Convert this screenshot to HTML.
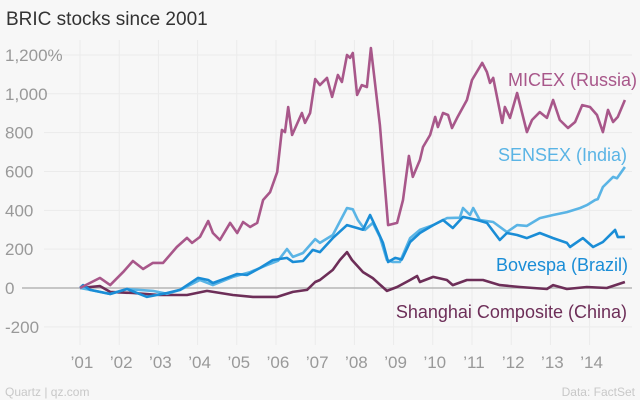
<!DOCTYPE html>
<html><head><meta charset="utf-8"><style>
body{margin:0;background:#f7f7f7;}
svg{display:block;font-family:"Liberation Sans",sans-serif;}
</style></head><body>
<svg width="640" height="400" viewBox="0 0 640 400">
<rect width="640" height="400" fill="#f7f7f7"/>
<text x="6" y="25" font-size="19" fill="#333">BRIC stocks since 2001</text>
<g id="grid"></g>
<g id="lines"></g>
<text x="637" y="86" font-size="18" fill="#a8578a" text-anchor="end">MICEX (Russia)</text>
<text x="627" y="161" font-size="18" fill="#5ab4e5" text-anchor="end">SENSEX (India)</text>
<text x="628" y="271" font-size="18" fill="#1a8dd6" text-anchor="end">Bovespa (Brazil)</text>
<text x="627" y="318" font-size="18" fill="#6d2e58" text-anchor="end">Shanghai Composite (China)</text>
<text x="5" y="396" font-size="12" fill="#c8c8c8">Quartz | qz.com</text>
<text x="635" y="396" font-size="12" fill="#c8c8c8" text-anchor="end">Data: FactSet</text>
</svg>
<script>
const yTicks=[1200,1000,800,600,400,200,0,-200];
const yTickLabels=["1,200%","1,000","800","600","400","200","0","-200"];
const xYears=[2001,2002,2003,2004,2005,2006,2007,2008,2009,2010,2011,2012,2013,2014];
const xTickLabels=["\u201901","\u201902","\u201903","\u201904","\u201905","\u201906","\u201907","\u201908","\u201909","\u201910","\u201911","\u201912","\u201913","\u201914"];

const micexDates=[2001.00,2001.51,2001.77,2002.10,2002.35,2002.61,2002.86,2003.12,2003.47,2003.73,2003.86,2004.06,2004.27,2004.39,2004.57,2004.83,2005.01,2005.16,2005.34,2005.52,2005.67,2005.85,2006.03,2006.15,2006.23,2006.31,2006.41,2006.66,2006.74,2006.87,2007.00,2007.12,2007.30,2007.43,2007.58,2007.68,2007.81,2007.89,2007.96,2008.07,2008.19,2008.32,2008.42,2008.65,2008.86,2009.09,2009.24,2009.39,2009.49,2009.67,2009.75,2009.93,2010.06,2010.13,2010.26,2010.39,2010.49,2010.62,2010.87,2011.00,2011.26,2011.38,2011.46,2011.54,2011.77,2011.84,2011.97,2012.15,2012.40,2012.53,2012.73,2012.91,2013.07,2013.24,2013.45,2013.63,2013.81,2014.01,2014.19,2014.34,2014.47,2014.60,2014.72,2014.90];
const micexValues=[0,52,15,82,139,98,129,129,211,258,232,263,345,283,247,335,283,340,314,335,453,494,597,814,803,932,788,901,850,901,1076,1045,1082,984,1097,1061,1200,1185,1210,994,1045,1035,1236,839,324,335,453,680,572,659,726,788,881,829,901,891,824,876,968,1071,1159,1112,1056,1082,850,932,876,1004,803,865,906,876,968,865,824,855,942,932,891,803,917,855,881,968];

const sensexDates=[2001.00,2001.26,2001.77,2002.20,2002.86,2003.22,2003.55,2004.06,2004.39,2004.90,2005.34,2005.77,2006.05,2006.28,2006.43,2006.69,2007.00,2007.12,2007.45,2007.81,2007.96,2008.09,2008.27,2008.47,2008.65,2008.83,2008.98,2009.16,2009.42,2009.67,2010.01,2010.36,2010.69,2010.77,2010.95,2011.03,2011.20,2011.54,2011.89,2012.15,2012.40,2012.73,2013.07,2013.42,2013.76,2013.93,2014.14,2014.21,2014.34,2014.60,2014.70,2014.90];
const sensexValues=[0,-10,-31,-5,-15,-30,-10,41,15,57,82,118,140,201,160,180,252,232,273,412,405,350,299,335,263,144,134,134,257,299,324,360,362,412,376,412,350,340,288,324,320,360,376,391,412,427,453,458,520,572,565,623];

const bovespaDates=[2001.00,2001.08,2001.26,2001.77,2002.20,2002.71,2003.22,2003.55,2004.01,2004.27,2004.39,2004.75,2005.01,2005.26,2005.59,2005.92,2006.28,2006.43,2006.69,2006.94,2007.12,2007.45,2007.81,2008.07,2008.22,2008.40,2008.58,2008.73,2008.86,2009.04,2009.21,2009.42,2009.67,2010.01,2010.26,2010.51,2010.77,2011.13,2011.38,2011.71,2011.89,2012.15,2012.40,2012.73,2013.07,2013.42,2013.50,2013.83,2014.09,2014.34,2014.65,2014.72,2014.90];
const bovespaValues=[0,15,-10,-31,-5,-46,-26,-10,52,41,26,52,72,67,103,144,155,134,139,196,185,257,324,309,300,376,299,232,134,155,147,237,283,324,350,309,366,350,335,247,283,273,257,283,257,232,211,257,211,237,299,262,263];

const shanghaiDates=[2001.00,2001.51,2001.77,2002.35,2003.04,2003.73,2004.24,2004.90,2005.41,2006.03,2006.43,2006.79,2007.00,2007.12,2007.45,2007.63,2007.81,2007.94,2008.22,2008.47,2008.83,2009.09,2009.42,2009.60,2009.67,2010.01,2010.36,2010.51,2010.87,2011.28,2011.71,2012.22,2012.91,2013.07,2013.42,2013.93,2014.44,2014.90];
const shanghaiValues=[0,10,-20,-26,-36,-36,-15,-36,-46,-46,-20,-10,31,41,93,144,185,144,82,51,-15,5,41,62,31,57,41,15,41,41,15,5,-5,15,-5,5,0,31];

const NS="http://www.w3.org/2000/svg";
const X0=80, XW=39.2, Y0=288, YK=0.1942;
function xScale(yr){return X0+(yr-2001)*XW;}
function yScale(v){return Y0-v*YK;}
function mk(tag,attrs,parent){const e=document.createElementNS(NS,tag);for(const k in attrs)e.setAttribute(k,attrs[k]);parent.appendChild(e);return e;}
const grid=document.getElementById('grid');
xYears.forEach((yr,i)=>{
  const l=mk('line',{x1:xScale(yr),x2:xScale(yr),y1:40,y2:345,stroke:'#ebebeb','stroke-width':1},grid);
  
  
  const t=mk('text',{x:xScale(yr)+2,y:368,'font-size':17,fill:'#999','text-anchor':'middle'},grid);
  t.textContent=xTickLabels[i];
  
  
});
yTicks.forEach((v,i)=>{
  const l=mk('line',{x1:v===0?22:44,x2:632,y1:yScale(v),y2:yScale(v),stroke:v===0?'#b5b5b5':'#ebebeb','stroke-width':v===0?1.5:1},grid);
  
  
  const t=mk('text',{x:5,y:yScale(v)+6,'font-size':17,fill:'#999'},grid);
  t.textContent=yTickLabels[i];
  
  
});
const lines=document.getElementById('lines');
function draw(dates,vals,color,name){
  const d=dates.map((yr,i)=>(i?'L':'M')+xScale(yr).toFixed(1)+','+yScale(vals[i]).toFixed(1)).join(' ');
  const p=mk('path',{d:d,fill:'none',stroke:color,'stroke-width':2.6,'stroke-linejoin':'round'},lines);
  
  
}
draw(shanghaiDates,shanghaiValues,'#6d2e58','shanghai-line');
draw(sensexDates,sensexValues,'#5ab4e5','sensex-line');
draw(bovespaDates,bovespaValues,'#1a8dd6','bovespa-line');
draw(micexDates,micexValues,'#a8578a','micex-line');
</script>
</body></html>
